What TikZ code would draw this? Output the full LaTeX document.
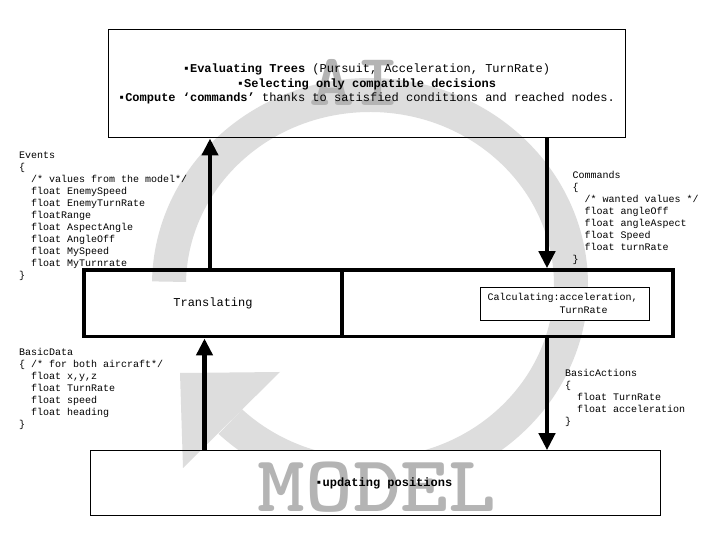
\documentclass[tikz,border=0pt]{standalone}
\usepackage{fontspec}
\newfontfamily\mono{Liberation Mono}
\usetikzlibrary{arrows.meta,calc}
\pgfdeclarelayer{back}
\pgfdeclarelayer{mid}
\pgfsetlayers{back,mid,main}
\definecolor{arcgray}{RGB}{221,221,221}
\definecolor{lettergray}{RGB}{180,180,180}
\tikzset{
  thinbox/.style={draw, line width=1pt, inner sep=0pt},
  thickbox/.style={draw, line width=3.5pt, inner sep=0pt},
  code/.style={anchor=north west, inner sep=0pt, align=left, font=\mono\fontsize{10}{12}\selectfont},
  small/.style={inner sep=0pt, font=\mono\fontsize{10}{12}\selectfont},
  arr/.style={line width=4.5pt, -{Triangle[length=17pt,width=16pt]}},
  big/.style={inner sep=0pt, text=lettergray},
}
\begin{document}
\begin{tikzpicture}[x=1pt,y=1pt]
\useasboundingbox (0,0) rectangle (720,540);
% boxes
\node[thinbox, minimum width=517pt, minimum height=108pt, align=center,
      font=\mono\fontsize{12}{14.5}\selectfont] (top) at (366.5,456)
  {{\bfseries ▪Evaluating Trees} (Pursuit, Acceleration, TurnRate)\\
   {\bfseries ▪Selecting only compatible decisions}\\
   {\bfseries ▪Compute ‘commands’} thanks to satisfied conditions and reached nodes.};
\node[thickbox, minimum width=258pt, minimum height=66.7pt,
      font=\mono\fontsize{12}{14}\selectfont] (trans) at (213,236.65) {Translating};
\node[thickbox, minimum width=331pt, minimum height=66.7pt] (calcreg) at (507.5,236.65) {};
\node[thinbox, fill=white, minimum width=169pt, minimum height=32.7pt] (calc) at (564.5,235.65) {};
\node[small, anchor=west] (calcA) at (487.5,241.7) {Calculating:acceleration,};
\node[small, anchor=west] (calcB) at (559.5,229.3) {TurnRate};
\node[thinbox, minimum width=569.3pt, minimum height=65.3pt,
      font=\mono\bfseries\fontsize{12}{14}\selectfont] (model) at (375.35,56.65) {\hspace*{17pt}▪updating positions};
% code blocks
\node[code] (events) at (19,388.3) {Events\\\{\\\hspace*{12pt}/* values from the model*/\\\hspace*{12pt}float EnemySpeed\\\hspace*{12pt}float EnemyTurnRate\\\hspace*{12pt}floatRange\\\hspace*{12pt}float AspectAngle\\\hspace*{12pt}float AngleOff\\\hspace*{12pt}float MySpeed\\\hspace*{12pt}float MyTurnrate\\\}};
\node[code] (commands) at (572.5,369.3) {Commands\\\{\\\hspace*{12pt}/* wanted values */\\\hspace*{12pt}float angleOff\\\hspace*{12pt}float angleAspect\\\hspace*{12pt}float Speed\\\hspace*{12pt}float turnRate\\\}};
\node[code] (basicdata) at (19,191.6) {BasicData\\\{ /* for both aircraft*/\\\hspace*{12pt}float x,y,z\\\hspace*{12pt}float TurnRate\\\hspace*{12pt}float speed\\\hspace*{12pt}float heading\\\}};
\node[code] (basicactions) at (565,171) {BasicActions\\\{\\\hspace*{12pt}float TurnRate\\\hspace*{12pt}float acceleration\\\}};
% connectors
\coordinate (xa) at (210,0);
\coordinate (xb) at (547,0);
\coordinate (xc) at (204.5,0);
\draw[arr] (xa |- trans.north) -- (xa |- top.south);
\draw[arr] (xb |- top.south) -- (xb |- calcreg.north);
\draw[arr] (xc |- model.north) -- (xc |- trans.south);
\draw[arr] (xb |- calcreg.south) -- (xb |- model.north);
% background circular arrow
\begin{pgfonlayer}{back}
  \fill[white] (0,0) rectangle (720,540);
  \coordinate (C) at (370,255);
  \fill[arcgray] ($(C)+(179:218 and 207)$)
     arc[start angle=179, end angle=-134, x radius=218, y radius=207]
     -- ($(C)+(-134:184 and 173)$)
     arc[start angle=-134, end angle=179, x radius=184, y radius=173] -- cycle;
\end{pgfonlayer}
\begin{pgfonlayer}{mid}
  \fill[white] (model.north west) rectangle (model.south east);
  \fill[arcgray] (180,167) -- (280,168) -- (183,72) -- cycle;
  \node[big, yscale=0.86, font=\ttfamily\bfseries\fontsize{86}{86}\selectfont] (ailabel) at (355,457.5) {AI};
  \node[big, yscale=0.876, font=\ttfamily\bfseries\fontsize{91}{91}\selectfont] (modellabel) at (377,52.7) {MODEL};
\end{pgfonlayer}
\end{tikzpicture}
\end{document}
